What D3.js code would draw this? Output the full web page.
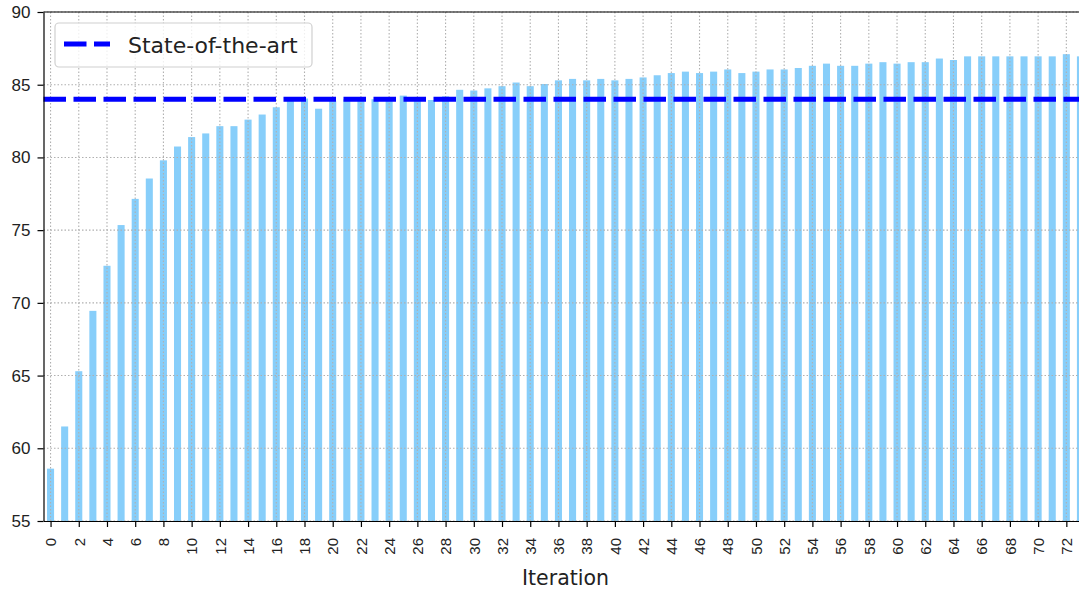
<!DOCTYPE html>
<html>
<head>
<meta charset="utf-8">
<script src="https://cdn.jsdelivr.net/npm/d3@7"></script>
<style>
  body { margin: 0; background: #fff; }
  svg { display: block; font-family: "DejaVu Sans", sans-serif; }
</style>
</head>
<body>
<div id="chart"></div>
<script>
// Iterations on the x axis
var iterations = [0, 1, 2, 3, 4, 5, 6, 7, 8, 9, 10, 11, 12, 13, 14, 15, 16, 17, 18, 19,
  20, 21, 22, 23, 24, 25, 26, 27, 28, 29, 30, 31, 32, 33, 34, 35, 36, 37, 38, 39,
  40, 41, 42, 43, 44, 45, 46, 47, 48, 49, 50, 51, 52, 53, 54, 55, 56, 57, 58, 59,
  60, 61, 62, 63, 64, 65, 66, 67, 68, 69, 70, 71, 72, 73];

// Score per iteration
var scores = [58.6, 61.5, 65.3, 69.45, 72.55, 75.35, 77.15, 78.55, 79.8, 80.75,
  81.4, 81.65, 82.15, 82.15, 82.6, 82.95, 83.45, 83.9, 84.05, 83.35,
  83.9, 84.0, 84.0, 84.0, 84.0, 84.25, 84.05, 83.95, 84.2, 84.65,
  84.6, 84.75, 84.9, 85.15, 84.9, 85.05, 85.3, 85.4, 85.3, 85.4,
  85.3, 85.4, 85.5, 85.65, 85.8, 85.9, 85.8, 85.9, 86.05, 85.8,
  85.9, 86.05, 86.05, 86.15, 86.3, 86.45, 86.3, 86.3, 86.45, 86.55,
  86.45, 86.55, 86.55, 86.8, 86.7, 86.95, 86.95, 86.95, 86.95, 86.95,
  86.95, 86.95, 87.1, 86.95];

var stateOfTheArt = 84;
var legendLabel = "State-of-the-art";

// Tick labels
var xTicks = [0, 2, 4, 6, 8, 10, 12, 14, 16, 18, 20, 22, 24, 26, 28, 30, 32, 34, 36,
  38, 40, 42, 44, 46, 48, 50, 52, 54, 56, 58, 60, 62, 64, 66, 68, 70, 72];
var yTicks = [55, 60, 65, 70, 75, 80, 85, 90];

var svgWidth = 1079;
var svgHeight = 589;

// plot area (right side runs past the picture edge, as in the original)
var plot = { left: 43.5, right: 1087.5, top: 12, bottom: 521 };

var svg = d3.select("#chart")
  .append("svg")
  .attr("width", svgWidth)
  .attr("height", svgHeight);

var x = d3.scaleLinear().domain([-0.5, 73.5]).range([plot.left, plot.right]);
var y = d3.scaleLinear().domain([55, 90]).range([plot.bottom, plot.top]);

var barW = x(0.25) - x(-0.25);

// Bars
svg.append("g")
  .selectAll("rect")
  .data(iterations)
  .enter()
  .append("rect")
  .attr("x", d => x(d) - barW / 2)
  .attr("y", (d, i) => y(scores[i]))
  .attr("width", barW)
  .attr("height", (d, i) => plot.bottom - y(scores[i]))
  .attr("fill", "#87cefa");

// Grid (drawn over the bars)
var grid = svg.append("g")
  .attr("stroke", "#b0b0b0")
  .attr("stroke-width", 1.1)
  .attr("stroke-dasharray", "1.5 2");

grid.selectAll(".gx")
  .data(xTicks)
  .enter()
  .append("line")
  .attr("x1", d => x(d)).attr("x2", d => x(d))
  .attr("y1", plot.top).attr("y2", plot.bottom);

grid.selectAll(".gy")
  .data(yTicks)
  .enter()
  .append("line")
  .attr("x1", plot.left).attr("x2", svgWidth)
  .attr("y1", d => y(d)).attr("y2", d => y(d));

// State-of-the-art line
svg.append("line")
  .attr("x1", plot.left).attr("x2", plot.right)
  .attr("y1", y(stateOfTheArt)).attr("y2", y(stateOfTheArt))
  .attr("stroke", "#0000ff")
  .attr("stroke-width", 5)
  .attr("stroke-dasharray", "22.5 7.5");

// Axes
var xAxis = svg.append("g")
  .attr("transform", `translate(0, ${plot.bottom})`)
  .call(d3.axisBottom(x).tickValues(xTicks).tickSize(6).tickSizeOuter(0).tickFormat(d3.format("d")));

xAxis.selectAll("text")
  .attr("transform", "rotate(-90)")
  .attr("x", -17)
  .attr("y", 0)
  .attr("dy", "0.35em")
  .style("text-anchor", "end")
  .style("font-size", "15px")
  .attr("fill", "#222");

var yAxis = svg.append("g")
  .attr("transform", `translate(${plot.left}, 0)`)
  .call(d3.axisLeft(y).tickValues(yTicks).tickSize(6).tickSizeOuter(0).tickPadding(7));

yAxis.selectAll("text")
  .style("font-size", "17px")
  .attr("fill", "#222");

svg.selectAll(".domain").attr("stroke", "#000").attr("stroke-width", 1.2);
svg.selectAll(".tick line").attr("stroke", "#000").attr("stroke-width", 1.2);

// Top spine
svg.append("line")
  .attr("x1", plot.left).attr("x2", plot.right)
  .attr("y1", plot.top).attr("y2", plot.top)
  .attr("stroke", "#000")
  .attr("stroke-width", 1.2);

// Axis label
svg.append("text")
  .attr("x", (plot.left + plot.right) / 2)
  .attr("y", 585)
  .attr("text-anchor", "middle")
  .style("font-size", "20.5px")
  .attr("fill", "#222")
  .text("Iteration");

// Legend
var legend = svg.append("g");

legend.append("rect")
  .attr("x", 55).attr("y", 23)
  .attr("width", 257).attr("height", 44)
  .attr("rx", 4)
  .attr("fill", "#fff")
  .attr("fill-opacity", 0.8)
  .attr("stroke", "#d0d0d0")
  .attr("stroke-width", 1.2);

legend.append("line")
  .attr("x1", 64).attr("x2", 110)
  .attr("y1", 44).attr("y2", 44)
  .attr("stroke", "#0000ff")
  .attr("stroke-width", 5)
  .attr("stroke-dasharray", "22.5 7.5");

legend.append("text")
  .attr("x", 128)
  .attr("y", 52.5)
  .style("font-size", "22px")
  .attr("fill", "#222")
  .text(legendLabel);
</script>
</body>
</html>
